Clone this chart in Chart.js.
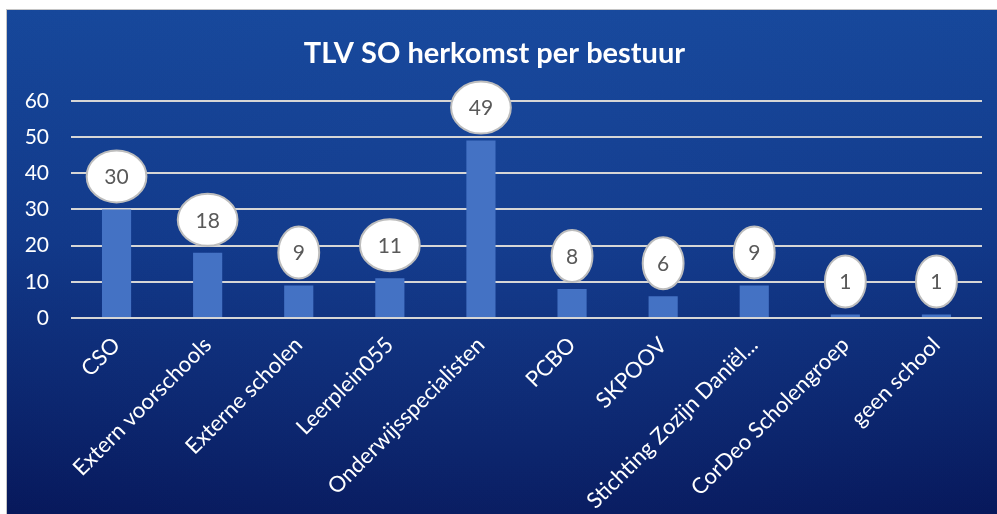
<!DOCTYPE html>
<html>
<head>
<meta charset="utf-8">
<script src="https://cdn.jsdelivr.net/npm/chart.js@4"></script>
<style>
  html, body { margin: 0; padding: 0; background: #ffffff; width: 997px; height: 514px; overflow: hidden; }
  #wrap { position: absolute; left: 6px; top: 9px; width: 991px; height: 505px; border-left: 1px solid #c4c4c4; border-top: 1px solid #c4c4c4; }
  canvas { display: block; }
</style>
</head>
<body>
<div id="wrap"><canvas id="c" width="991" height="505"></canvas></div>
<script>
const categories = ["CSO", "Extern voorschools", "Externe scholen", "Leerplein055", "Onderwijsspecialisten", "PCBO", "SKPOOV", "Stichting Zozijn Daniël...", "CorDeo Scholengroep", "geen school"];
const values = [30, 18, 9, 11, 49, 8, 6, 9, 1, 1];
const yMin = 0, yMax = 60, yStep = 10;
const titleText = "TLV SO herkomst per bestuur";

const FONT = "Lato, 'Open Sans', sans-serif";

const bgPlugin = {
  id: 'bg',
  beforeDraw(chart) {
    const ctx = chart.ctx, w = chart.width, h = chart.height;
    ctx.save();
    const g = ctx.createLinearGradient(0, 0, 0, h);
    g.addColorStop(0, '#16479a');
    g.addColorStop(0.45, '#113888');
    g.addColorStop(1, '#07185b');
    ctx.fillStyle = g;
    ctx.fillRect(0, 0, w, h);
    const r = ctx.createRadialGradient(w * 0.5, h * 0.35, 10, w * 0.5, h * 0.35, w * 0.6);
    r.addColorStop(0, 'rgba(40,90,180,0.18)');
    r.addColorStop(1, 'rgba(40,90,180,0)');
    ctx.fillStyle = r;
    ctx.fillRect(0, 0, w, h);
    ctx.restore();
  }
};

const labelPlugin = {
  id: 'bubbles',
  afterDatasetsDraw(chart) {
    const ctx = chart.ctx;
    const meta = chart.getDatasetMeta(0);
    ctx.save();
    ctx.font = "21px " + FONT;
    meta.data.forEach((bar, i) => {
      const txt = String(values[i]);
      const tw = ctx.measureText(txt).width;
      const rx = (22 + 1.55 * tw) / 2;
      const ry = 26;
      const cx = bar.x;
      const cy = bar.y - 7 - ry;
      ctx.beginPath();
      ctx.ellipse(cx, cy, rx, ry, 0, 0, Math.PI * 2);
      ctx.fillStyle = '#ffffff';
      ctx.fill();
      ctx.lineWidth = 2;
      ctx.strokeStyle = '#bdbdbd';
      ctx.stroke();
      ctx.fillStyle = '#595959';
      ctx.textAlign = 'center';
      ctx.textBaseline = 'middle';
      ctx.fillText(txt, cx, cy + 1);
    });
    ctx.restore();
  }
};

new Chart(document.getElementById('c'), {
  type: 'bar',
  data: {
    labels: categories,
    datasets: [{
      data: values,
      backgroundColor: '#4472C4',
      borderWidth: 0,
      categoryPercentage: 1,
      barPercentage: 0.32
    }]
  },
  options: {
    responsive: false,
    devicePixelRatio: 1,
    animation: false,
    layout: { padding: { left: 0, right: 16, top: 0, bottom: 0 } },
    plugins: {
      legend: { display: false },
      tooltip: { enabled: false },
      title: {
        display: true,
        text: titleText,
        color: '#ffffff',
        font: { family: FONT, size: 29, weight: 'bold' },
        padding: { top: 26, bottom: 30 }
      }
    },
    scales: {
      y: {
        min: yMin, max: yMax,
        ticks: { stepSize: yStep, color: '#ffffff', font: { family: FONT, size: 21 }, padding: 22 },
        grid: { color: '#d6d6d6', lineWidth: 2, drawTicks: false },
        border: { display: false },
        afterFit(scale) { scale.width = 64; }
      },
      x: {
        grid: { display: false },
        border: { display: false },
        ticks: { color: '#ffffff', font: { family: FONT, size: 22 }, maxRotation: 45, minRotation: 45, autoSkip: false, padding: 6 },
        afterFit(scale) { scale.height = 197; }
      }
    }
  },
  plugins: [bgPlugin, labelPlugin]
});
</script>
</body>
</html>
